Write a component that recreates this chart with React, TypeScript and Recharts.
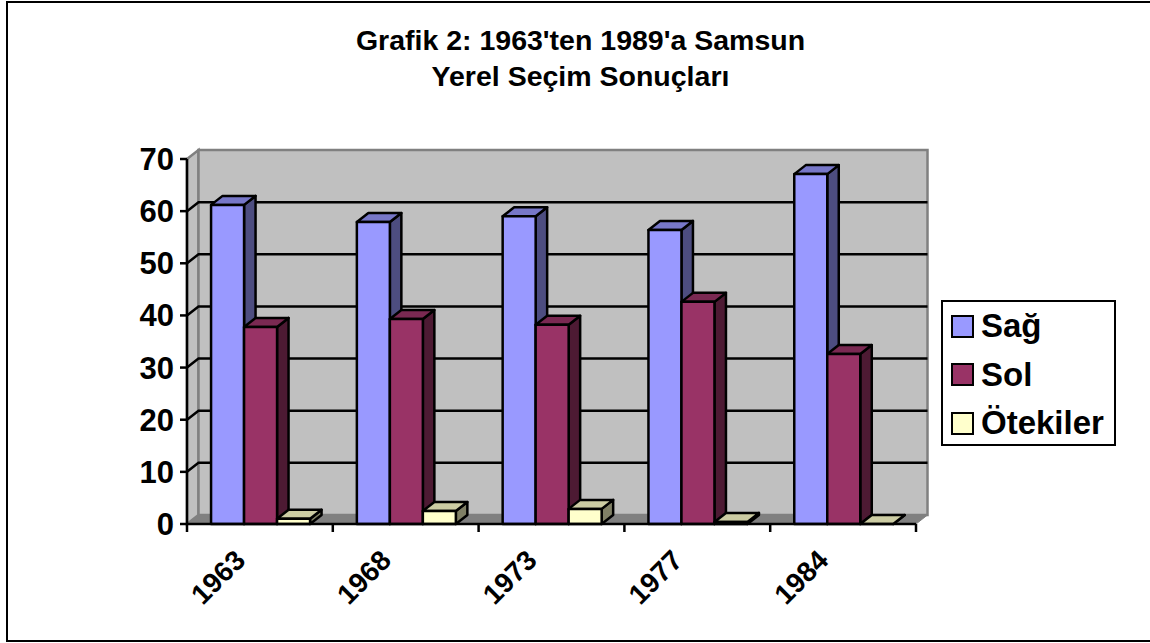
import { Bar, BarChart, CartesianGrid, Legend, XAxis, YAxis } from "recharts";

const YEARS = ["1963", "1968", "1973", "1977", "1984"];
const SAG = [61.2, 57.9, 59, 56.4, 67.1];
const SOL = [37.8, 39.3, 38.2, 42.6, 32.6];
const OTEKILER = [1, 2.5, 2.9, 0.4, 0];
const Y_TICKS = [0, 10, 20, 30, 40, 50, 60, 70];

const chartData = YEARS.map((year, i) => ({
  year,
  sag: SAG[i],
  sol: SOL[i],
  otekiler: OTEKILER[i],
}));

const FONT = "'Liberation Sans', Arial, sans-serif";
const WIDTH = 1150;
const HEIGHT = 643;
const LEFT = 187;
const RIGHT = 916;
const TOP = 159;
const BOTTOM = 524;
const DX = 11.5;
const DY = 9;
const BAND = (RIGHT - LEFT) / YEARS.length;
const LEGEND_W = 175;

const SERIES = [
  { key: "sag", name: "Sağ", front: "#9999ff", top: "#7777c8", side: "#4d4d80" },
  { key: "sol", name: "Sol", front: "#993366", top: "#7a2952", side: "#4d1a33" },
  { key: "otekiler", name: "Ötekiler", front: "#ffffcc", top: "#cccca3", side: "#808066" },
];

// Excel style 3D column: front face plus top and side faces pushed back by the depth offset.
function Column3D(props: any) {
  const { x, y, width, height, front, top, side } = props;
  const b = y + height;
  const r = x + width;
  const st = { stroke: "#000", strokeWidth: 2.5, strokeLinejoin: "round" as const };
  return (
    <g>
      <polygon points={`${r},${y} ${r + DX},${y - DY} ${r + DX},${b - DY} ${r},${b}`} fill={side} {...st} />
      <polygon points={`${x},${y} ${x + DX},${y - DY} ${r + DX},${y - DY} ${r},${y}`} fill={top} {...st} />
      <rect x={x} y={y} width={width} height={height} fill={front} {...st} />
    </g>
  );
}

// Back wall, side wall and floor behind the plot.
function Walls() {
  return (
    <g>
      <polygon
        points={`${LEFT},${TOP} ${LEFT + DX},${TOP - DY} ${LEFT + DX},${BOTTOM - DY} ${LEFT},${BOTTOM}`}
        fill="#c0c0c0"
        stroke="#808080"
        strokeWidth={2.5}
      />
      <rect
        x={LEFT + DX}
        y={TOP - DY}
        width={RIGHT - LEFT}
        height={BOTTOM - TOP}
        fill="#c0c0c0"
        stroke="#808080"
        strokeWidth={2.5}
      />
      <polygon
        points={`${LEFT},${BOTTOM} ${LEFT + DX},${BOTTOM - DY} ${RIGHT + DX},${BOTTOM - DY} ${RIGHT},${BOTTOM}`}
        fill="#808080"
        stroke="#808080"
      />
    </g>
  );
}

// The floor and the top edge keep the grey wall outline, only the inner lines are black.
function GridLine(props: any) {
  const { x1, x2, y1 } = props;
  if (y1 >= BOTTOM - 1 || y1 <= TOP + 1) return <g />;
  return (
    <polyline
      points={`${x1},${y1} ${x1 + DX},${y1 - DY} ${x2 + DX},${y1 - DY}`}
      fill="none"
      stroke="#000"
      strokeWidth={2.5}
    />
  );
}

function YearTick(props: any) {
  const { x, y, payload, index } = props;
  const left = x - BAND / 2;
  return (
    <g>
      <line x1={left} x2={left} y1={BOTTOM} y2={BOTTOM + 8} stroke="#000" strokeWidth={2.5} />
      {index === YEARS.length - 1 && (
        <line x1={left + BAND} x2={left + BAND} y1={BOTTOM} y2={BOTTOM + 8} stroke="#000" strokeWidth={2.5} />
      )}
      <text
        x={x - 13}
        y={y + 30}
        textAnchor="end"
        transform={`rotate(-45 ${x - 13} ${y + 30})`}
        fontFamily={FONT}
        fontWeight="bold"
        fontSize={28}
        fill="#000"
      >
        {payload.value}
      </text>
    </g>
  );
}

function LegendBox() {
  return (
    <div
      style={{
        width: LEGEND_W,
        height: 146,
        boxSizing: "border-box",
        border: "2.5px solid #000",
        background: "#fff",
        fontFamily: FONT,
        fontWeight: "bold",
        fontSize: 33,
        color: "#000",
      }}
    >
      {SERIES.map((s, i) => (
        <div
          key={s.key}
          style={{ position: "absolute", left: 10, top: 15 + i * 48.5, display: "flex", alignItems: "center", height: 23 }}
        >
          <span
            style={{
              display: "inline-block",
              width: 23,
              height: 23,
              boxSizing: "border-box",
              background: s.front,
              border: "2.5px solid #000",
              marginRight: 7,
            }}
          />
          {s.name}
        </div>
      ))}
    </div>
  );
}

export default function App() {
  return (
    <div style={{ position: "absolute", left: 0, top: 0, width: WIDTH, height: HEIGHT, overflow: "hidden", background: "#fff" }}>
      <div
        style={{
          position: "absolute",
          left: 6,
          top: 1,
          width: 1150,
          height: 641,
          boxSizing: "border-box",
          border: "2.5px solid #000",
        }}
      />
      <div
        style={{
          position: "absolute",
          left: 0,
          top: 21.6,
          width: 1161,
          textAlign: "center",
          fontFamily: FONT,
          fontWeight: "bold",
          fontSize: 28.5,
          lineHeight: "36px",
          color: "#000",
        }}
      >
        Grafik 2: 1963'ten 1989'a Samsun
        <br />
        Yerel Seçim Sonuçları
      </div>
      <div style={{ position: "absolute", left: 0, top: 0 }}>
        <BarChart
          width={WIDTH}
          height={HEIGHT}
          data={chartData}
          margin={{ top: TOP, left: 0, right: WIDTH - RIGHT - LEGEND_W, bottom: 0 }}
          barCategoryGap="16.5%"
          barGap={0}
        >
          <Walls />
          <CartesianGrid zIndex={1} vertical={false} horizontal={(p: any) => <GridLine key={p.key} {...p} />} />
          <XAxis
            dataKey="year"
            axisLine={{ stroke: "#000", strokeWidth: 2.5 }}
            tickLine={false}
            interval={0}
            height={HEIGHT - BOTTOM}
            tick={(p: any) => <YearTick {...p} />}
          />
          <YAxis
            domain={[0, 70]}
            ticks={Y_TICKS}
            interval={0}
            width={LEFT}
            axisLine={{ stroke: "#000", strokeWidth: 2.5 }}
            tickLine={{ stroke: "#000", strokeWidth: 2.5 }}
            tickSize={7}
            tickMargin={6}
            tick={{ fill: "#000", fontFamily: FONT, fontWeight: "bold", fontSize: 31 }}
          />
          {SERIES.map((s) => (
            <Bar
              key={s.key}
              dataKey={s.key}
              name={s.name}
              isAnimationActive={false}
              shape={(p: any) => <Column3D {...p} front={s.front} top={s.top} side={s.side} />}
            />
          ))}
          <Legend
            layout="vertical"
            align="right"
            verticalAlign="middle"
            content={<LegendBox />}
            wrapperStyle={{ left: 941, top: 299.5, right: "auto", width: LEGEND_W, height: 146, bottom: "auto" }}
          />
        </BarChart>
      </div>
    </div>
  );
}
